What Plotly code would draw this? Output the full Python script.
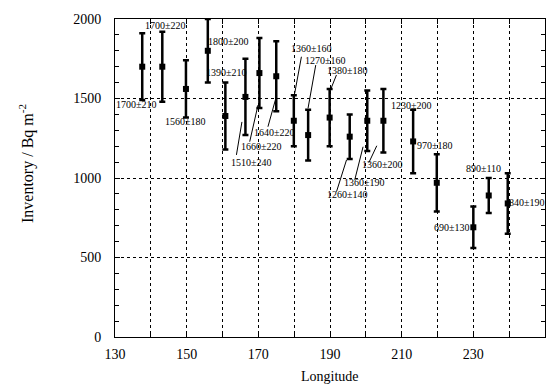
import plotly.graph_objects as go

# ---- data ----
longitude = [137.6, 143.2, 149.8, 155.9, 160.8, 166.4, 170.3, 175.0, 179.9, 183.9,
             189.9, 195.5, 200.4, 204.9, 213.2, 219.8, 230.0, 234.3, 239.6]
inventory = [1700, 1700, 1560, 1800, 1390, 1510, 1660, 1640, 1360, 1270,
             1380, 1260, 1360, 1360, 1230, 970, 690, 890, 840]
error = [210, 220, 180, 200, 210, 240, 220, 220, 160, 160,
         180, 140, 190, 200, 200, 180, 130, 110, 190]
labels = [f"{v}±{e}" for v, e in zip(inventory, error)]

x_ticks = [130, 150, 170, 190, 210, 230, 250]
y_ticks = [0, 500, 1000, 1500, 2000]

# label offsets from each point (screen px: dx right, dy down)
label_offsets = [(-6, 38), (3, -41), (0, 33), (21, -9), (1, -43), (6, 66), (2, 73),
                 (-2, 56), (18, -72), (17, -75), (18, -47), (-2, 58), (-3, 62),
                 (-1, 44), (-2, -36), (-2, -37), (-21, 0), (-5, -27), (19, -1)]
# leader lines: point index -> ((dx0, dy0), (dx1, dy1)) screen px from the point
leaders = {
    5: ((-9, 58), (-3.5, 25)),
    6: ((-9.7, 68.6), (-1.4, 32)),
    7: ((-8.3, 50.5), (-0.9, 23.8)),
    8: ((7.6, -64), (0.9, -27.5)),
    9: ((7.6, -70), (-0.1, -26.8)),
    10: ((6.8, -42.6), (0.8, -27.6)),
    11: ((-13.2, 55), (-3.2, 23.3)),
    12: ((-12.5, 59), (-4.2, 26)),
    13: ((-14.6, 42), (-6.6, 25)),
}

FONT = "Liberation Serif, Times New Roman, serif"

fig = go.Figure()
fig.add_trace(go.Scatter(
    x=longitude, y=inventory, mode="markers",
    marker=dict(symbol="square", size=6, color="black"),
    error_y=dict(type="data", array=error, visible=True, color="black",
                 thickness=2.5, width=3),
    showlegend=False,
))

annotations = []
for lon, v, lab, (dx, dy) in zip(longitude, inventory, labels, label_offsets):
    annotations.append(dict(x=lon, y=v, xref="x", yref="y", text=lab, showarrow=False,
                            xanchor="center", yanchor="middle",
                            xshift=dx, yshift=-dy,
                            font=dict(family=FONT, size=10, color="black")))

annotations.append(dict(xref="paper", yref="paper", x=0, y=0.5,
                        xanchor="center", yanchor="middle", xshift=-89, yshift=14,
                        text="Inventory / Bq m<sup>-2</sup>", textangle=-90, showarrow=False,
                        font=dict(family=FONT, size=16, color="black")))
annotations.append(dict(xref="paper", yref="paper", x=0.5, y=0,
                        xanchor="center", yanchor="middle", yshift=-39,
                        text="Longitude", showarrow=False,
                        font=dict(family=FONT, size=14, color="black")))

shapes = []
for i, ((dx0, dy0), (dx1, dy1)) in leaders.items():
    shapes.append(dict(type="line", xref="x", yref="y",
                       xsizemode="pixel", ysizemode="pixel",
                       xanchor=longitude[i], yanchor=inventory[i],
                       x0=dx0, x1=dx1, y0=-dy0, y1=-dy1,
                       line=dict(color="black", width=1)))

fig.update_layout(
    width=553, height=385,
    margin=dict(l=115, r=8, t=19, b=48),
    paper_bgcolor="white", plot_bgcolor="white",
    font=dict(family=FONT, size=14, color="black"),
    annotations=annotations, shapes=shapes,
)
fig.update_xaxes(
    range=[130, 250], tickvals=x_ticks, ticks="inside", ticklen=5, tickcolor="black",
    showline=True, linecolor="black", linewidth=1, mirror="ticks",
    showgrid=True, gridcolor="black", gridwidth=1, griddash="dot",
    minor=dict(dtick=10, ticks="inside", ticklen=5, tickcolor="black",
               showgrid=True, gridcolor="black", griddash="dot"),
    zeroline=False, ticklabelstandoff=4,
    tickfont=dict(family=FONT, size=14),
)
fig.update_yaxes(
    range=[0, 2000], tickvals=y_ticks, ticks="inside", ticklen=5, tickcolor="black",
    showline=True, linecolor="black", linewidth=1, mirror="ticks",
    showgrid=True, gridcolor="black", gridwidth=1, griddash="3px,3px",
    minor=dict(dtick=100, ticks="inside", ticklen=4, tickcolor="black", showgrid=False),
    zeroline=False, ticklabelstandoff=10,
    tickfont=dict(family=FONT, size=14),
)

fig.write_html("out.html")
